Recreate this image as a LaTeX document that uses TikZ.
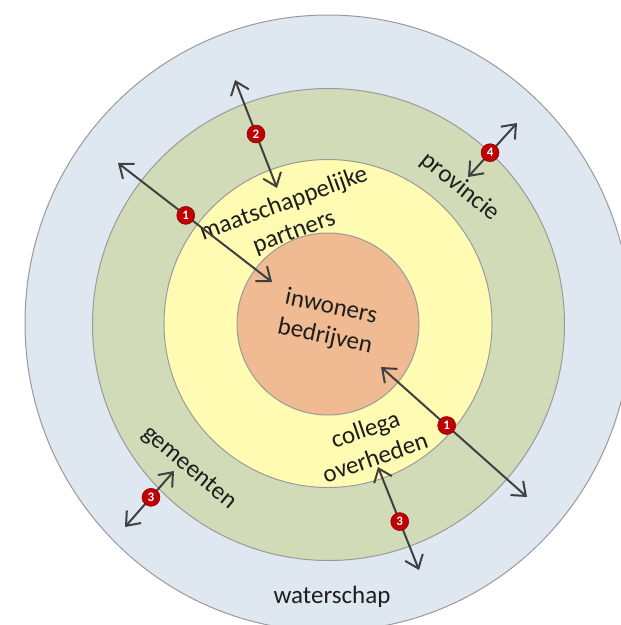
\documentclass[tikz,border=0pt]{standalone}
\usepackage{fontspec}
\setmainfont{Carlito}
\usetikzlibrary{arrows.meta}
\definecolor{bluec}{HTML}{DFE7F0}
\definecolor{greenc}{HTML}{D2DBB8}
\definecolor{yellowc}{HTML}{FFFBB3}
\definecolor{orangec}{HTML}{F0BA92}
\definecolor{edgec}{HTML}{9A9A9A}
\definecolor{arrowc}{HTML}{404040}
\definecolor{textc}{HTML}{1E1E1E}
\definecolor{badgec}{HTML}{C00000}
\tikzset{
  ring/.style={draw=edgec, line width=1pt},
  lbl/.style={font=\fontsize{25}{30}\selectfont, text=textc, align=center, inner sep=0pt},
  conn/.style={draw=arrowc, line width=2pt, {Straight Barb[length=12pt,width=19pt]}-{Straight Barb[length=12pt,width=19pt]}},
  badge/.style={circle, fill=badgec, draw=badgec!70!black, line width=0.5pt, minimum size=18pt, inner sep=0pt, text=white, font=\fontsize{13}{13}\selectfont\bfseries}
}
\begin{document}
\begin{tikzpicture}[x=1pt,y=-1pt]
\useasboundingbox (0,0) rectangle (621,625);
\fill[white] (0,0) rectangle (621,625);
\clip (0,0) rectangle (621,625);
% rings
\draw[ring, fill=bluec] (328,323) ellipse [x radius=303, y radius=308];
\draw[ring, fill=greenc] (328.5,324.5) circle [radius=236];
\draw[ring, fill=yellowc] (328,323.5) circle [radius=164];
\draw[ring, fill=orangec] (328,324) circle [radius=91];
% labels
\node[lbl, rotate=-12] (inner) at (328,322) {inwoners\\bedrijven};
\node[lbl, rotate=20] (partners) at (289,218) {maatschappelijke\\partners};
\node[lbl, rotate=19] (overheden) at (370,443) {collega\\overheden};
\node[lbl, rotate=-39] (provincie) at (460,187) {provincie};
\node[lbl, rotate=-40] (gemeenten) at (189,468) {gemeenten};
\node[lbl] (waterschap) at (332,597) {waterschap};
% connector end points
\coordinate (a1s) at (118,163);
\coordinate (a1e) at (272,282);
\coordinate (a2s) at (235,80);
\coordinate (a2e) at (277,188);
\coordinate (a4s) at (517,123);
\coordinate (a4e) at (468,177);
\coordinate (b1s) at (381,367);
\coordinate (b1e) at (527,497);
\coordinate (b3s) at (378,467);
\coordinate (b3e) at (419,570);
\coordinate (c3s) at (174,471);
\coordinate (c3e) at (125,527);
% connectors with badges
\draw[conn] (a1s) -- node[badge, pos=0.44] (n1a) {1} (a1e);
\draw[conn] (a2s) -- node[badge, pos=0.5] (n2) {2} (a2e);
\draw[conn] (a4s) -- node[badge, pos=0.55] (n4) {4} (a4e);
\draw[conn] (b1s) -- node[badge, pos=0.45] (n1b) {1} (b1e);
\draw[conn] (b3s) -- node[badge, pos=0.53] (n3a) {3} (b3e);
\draw[conn] (c3s) -- node[badge, pos=0.47] (n3b) {3} (c3e);
\end{tikzpicture}
\end{document}
